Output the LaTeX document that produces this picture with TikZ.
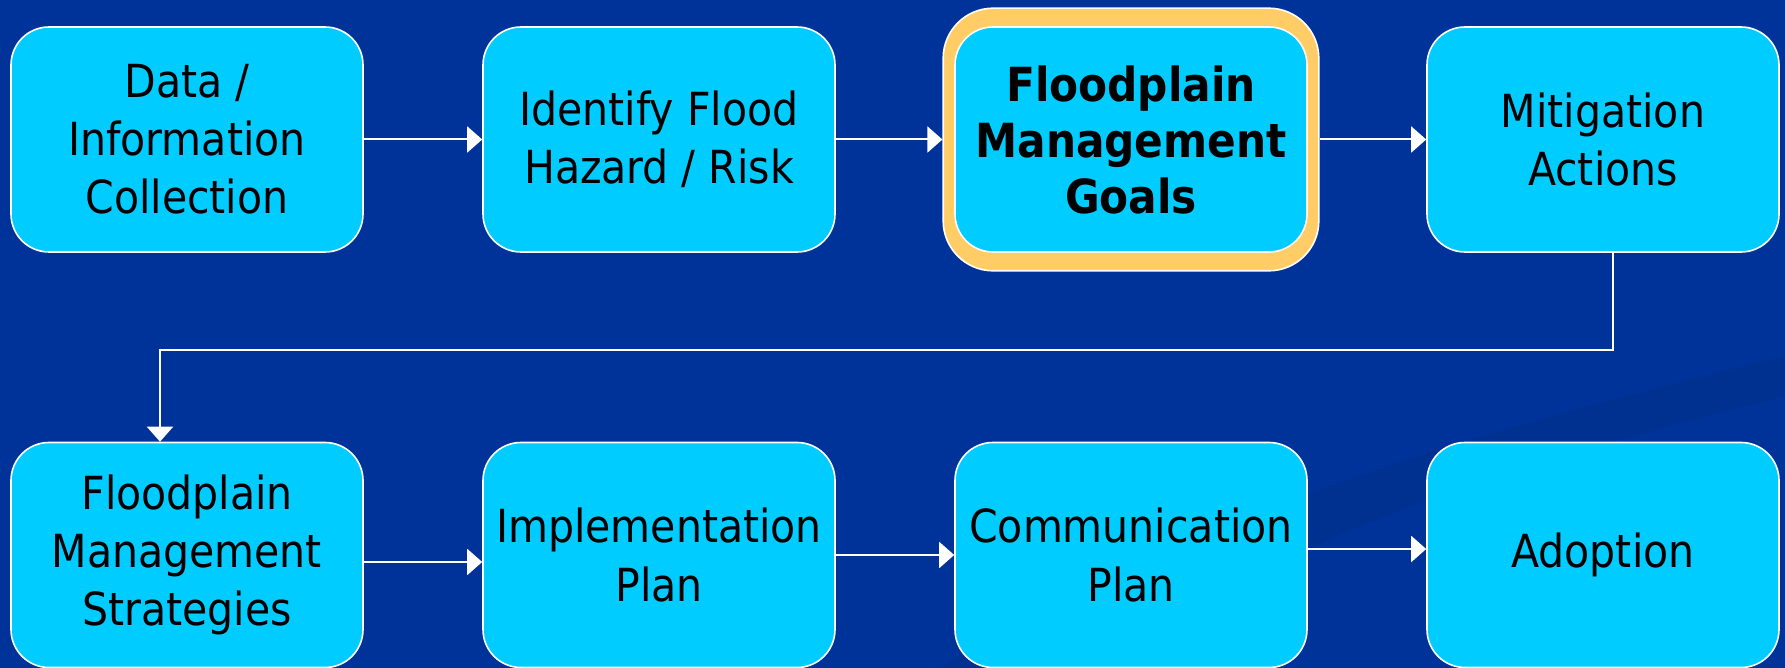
\documentclass[tikz,border=0pt]{standalone}
\usepackage{fontspec}
\setmainfont{DejaVu Sans Condensed}
\usetikzlibrary{positioning}
\usetikzlibrary{fit,backgrounds}
\usetikzlibrary{arrows.meta}
\definecolor{slideblue}{HTML}{003399}
\definecolor{boxcyan}{HTML}{00CCFF}
\definecolor{goalgold}{HTML}{FFCC66}

\begin{document}
\begin{tikzpicture}[node distance=236pt,on grid,>={Triangle[length=7.5pt,width=13pt]},
		state/.style={rectangle,rounded corners=19pt,draw=white,line width=0.8pt,fill=boxcyan,
			minimum width=176pt,minimum height=112.5pt,inner sep=0pt,align=center,
			font=\fontsize{22.8}{29}\selectfont},
		goal/.style={state,font=\bfseries\fontsize{23.5}{28}\selectfont},
		goalframe/.style={rectangle,rounded corners=25pt,draw=white,line width=0.8pt,fill=goalgold,
			inner xsep=5.5pt,inner ysep=9pt},
		flow/.style={->,color=white,line width=1pt}]
		\path[use as bounding box] (0,0) rectangle (892.5pt,-334pt);
		\node[state]  (data)   at (93.5pt,-69.75pt)        {Data /\\Information\\Collection};
		\node[state]  (hazard) [right=of data]             {Identify Flood\\Hazard / Risk};
		\node[goal]   (goals)  [right=of hazard]           {Floodplain\\Management\\Goals};
		\node[state]  (mitig)  [right=of goals]            {Mitigation\\Actions};
		\node[state]  (strat)  [below=207.75pt of data]    {Floodplain\\Management\\Strategies};
		\node[state]  (impl)   [right=of strat]            {Implementation\\Plan};
		\node[state]  (comm)   [right=of impl]             {Communication\\Plan};
		\node[state]  (adopt)  [right=of comm]             {Adoption};
		
		\begin{scope}[on background layer]
		\fill[slideblue] (0,0) rectangle (892.5pt,-334pt);
		% faint swoosh of the slide background
		\fill[black,opacity=0.06] (470pt,-334pt) .. controls (600pt,-255pt) and (740pt,-215pt) .. (892.5pt,-178pt)
			-- (892.5pt,-198pt) .. controls (760pt,-232pt) and (640pt,-265pt) .. (560pt,-334pt) -- cycle;
		\node[goalframe,fit=(goals)] (frame) {};
		\end{scope}
		
		\path[flow]
		(data) edge (hazard)
		(hazard) edge (frame)
		(frame) edge (mitig)
		([yshift=-3.5pt]strat.east) edge ([yshift=-3.5pt]impl.west)
		(impl) edge (comm)
		([yshift=3pt]comm.east) edge ([yshift=3pt]adopt.west);
		\draw[flow] ([xshift=5pt]mitig.south) -- ++(0,-48.5pt) -| ([xshift=-13.5pt]strat.north);
\end{tikzpicture}
\end{document}
